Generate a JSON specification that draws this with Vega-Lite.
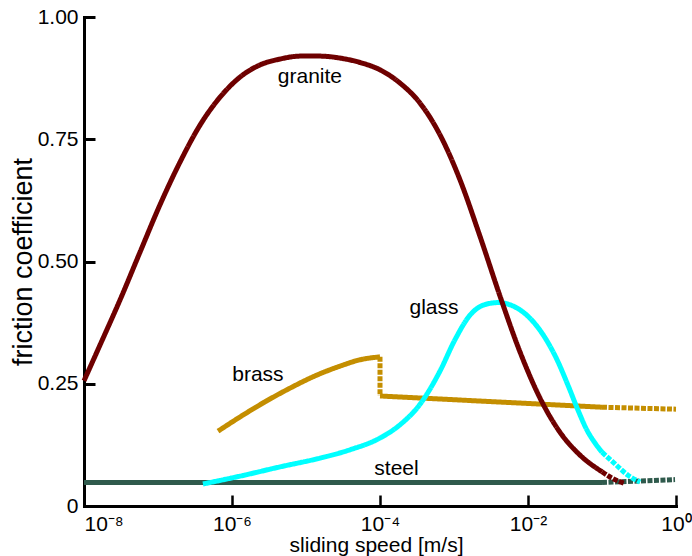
{
  "$schema": "https://vega.github.io/schema/vega-lite/v6.json",
  "width": 592,
  "height": 489,
  "autosize": {"type": "none"},
  "padding": {"left": 84, "top": 17, "right": 16, "bottom": 50},
  "background": "white",
  "config": {"view": {"stroke": null}, "font": "Liberation Sans"},
  "datasets": {
    "curves": [
      {"m": "steel", "seg": "s1", "dash": "solid", "i": 1, "x": 1e-8, "y": 0.048},
      {"m": "steel", "seg": "s1", "dash": "solid", "i": 2, "x": 0.1, "y": 0.048},
      {"m": "steel", "seg": "s2", "dash": "dashed", "i": 3, "x": 0.1, "y": 0.048},
      {"m": "steel", "seg": "s2", "dash": "dashed", "i": 4, "x": 0.97, "y": 0.054},

      {"m": "brass", "seg": "b1", "dash": "solid", "i": 1, "x": 6.47e-7, "y": 0.153},
      {"m": "brass", "seg": "b1", "dash": "solid", "i": 2, "x": 1.28e-6, "y": 0.182},
      {"m": "brass", "seg": "b1", "dash": "solid", "i": 3, "x": 2.79e-6, "y": 0.213},
      {"m": "brass", "seg": "b1", "dash": "solid", "i": 4, "x": 6.08e-6, "y": 0.241},
      {"m": "brass", "seg": "b1", "dash": "solid", "i": 5, "x": 1.32e-5, "y": 0.266},
      {"m": "brass", "seg": "b1", "dash": "solid", "i": 6, "x": 2.88e-5, "y": 0.286},
      {"m": "brass", "seg": "b1", "dash": "solid", "i": 7, "x": 5.37e-5, "y": 0.299},
      {"m": "brass", "seg": "b1", "dash": "solid", "i": 8, "x": 1e-4, "y": 0.305},
      {"m": "brass", "seg": "b2", "dash": "dashed", "i": 9, "x": 1e-4, "y": 0.305},
      {"m": "brass", "seg": "b2", "dash": "dashed", "i": 10, "x": 1e-4, "y": 0.225},
      {"m": "brass", "seg": "b3", "dash": "solid", "i": 11, "x": 1e-4, "y": 0.225},
      {"m": "brass", "seg": "b3", "dash": "solid", "i": 12, "x": 0.1, "y": 0.202},
      {"m": "brass", "seg": "b4", "dash": "dashed", "i": 13, "x": 0.1, "y": 0.202},
      {"m": "brass", "seg": "b4", "dash": "dashed", "i": 14, "x": 1, "y": 0.198},

      {"m": "glass", "seg": "c1", "dash": "solid", "i": 1, "x": 4.05e-7, "y": 0.045},
      {"m": "glass", "seg": "c1", "dash": "solid", "i": 2, "x": 1.28e-6, "y": 0.061},
      {"m": "glass", "seg": "c1", "dash": "solid", "i": 3, "x": 4.46e-6, "y": 0.08},
      {"m": "glass", "seg": "c1", "dash": "solid", "i": 4, "x": 1.55e-5, "y": 0.098},
      {"m": "glass", "seg": "c1", "dash": "solid", "i": 5, "x": 3.94e-5, "y": 0.115},
      {"m": "glass", "seg": "c1", "dash": "solid", "i": 6, "x": 1e-4, "y": 0.139},
      {"m": "glass", "seg": "c1", "dash": "solid", "i": 7, "x": 1.86e-4, "y": 0.166},
      {"m": "glass", "seg": "c1", "dash": "solid", "i": 8, "x": 3.47e-4, "y": 0.208},
      {"m": "glass", "seg": "c1", "dash": "solid", "i": 9, "x": 6.47e-4, "y": 0.276},
      {"m": "glass", "seg": "c1", "dash": "solid", "i": 10, "x": 1.03e-3, "y": 0.340},
      {"m": "glass", "seg": "c1", "dash": "solid", "i": 11, "x": 1.64e-3, "y": 0.390},
      {"m": "glass", "seg": "c1", "dash": "solid", "i": 12, "x": 2.62e-3, "y": 0.412},
      {"m": "glass", "seg": "c1", "dash": "solid", "i": 13, "x": 4.0e-3, "y": 0.416},
      {"m": "glass", "seg": "c1", "dash": "solid", "i": 14, "x": 6.67e-3, "y": 0.407},
      {"m": "glass", "seg": "c1", "dash": "solid", "i": 15, "x": 1.064e-2, "y": 0.384},
      {"m": "glass", "seg": "c1", "dash": "solid", "i": 16, "x": 1.7e-2, "y": 0.344},
      {"m": "glass", "seg": "c1", "dash": "solid", "i": 17, "x": 2.47e-2, "y": 0.299},
      {"m": "glass", "seg": "c1", "dash": "solid", "i": 18, "x": 3.47e-2, "y": 0.247},
      {"m": "glass", "seg": "c1", "dash": "solid", "i": 19, "x": 4.74e-2, "y": 0.196},
      {"m": "glass", "seg": "c1", "dash": "solid", "i": 20, "x": 6.27e-2, "y": 0.155},
      {"m": "glass", "seg": "c1", "dash": "solid", "i": 21, "x": 8.03e-2, "y": 0.129},
      {"m": "glass", "seg": "c1", "dash": "solid", "i": 22, "x": 0.1, "y": 0.11},
      {"m": "glass", "seg": "c2", "dash": "dashed", "i": 23, "x": 0.1, "y": 0.11},
      {"m": "glass", "seg": "c2", "dash": "dashed", "i": 24, "x": 0.15, "y": 0.086},
      {"m": "glass", "seg": "c2", "dash": "dashed", "i": 25, "x": 0.224, "y": 0.063},
      {"m": "glass", "seg": "c2", "dash": "dashed", "i": 26, "x": 0.327, "y": 0.049},

      {"m": "granite", "seg": "g1", "dash": "solid", "i": 1, "x": 1e-8, "y": 0.256},
      {"m": "granite", "seg": "g1", "dash": "solid", "i": 2, "x": 1.644e-8, "y": 0.329},
      {"m": "granite", "seg": "g1", "dash": "solid", "i": 3, "x": 3.06e-8, "y": 0.421},
      {"m": "granite", "seg": "g1", "dash": "solid", "i": 4, "x": 5.71e-8, "y": 0.519},
      {"m": "granite", "seg": "g1", "dash": "solid", "i": 5, "x": 1.064e-7, "y": 0.616},
      {"m": "granite", "seg": "g1", "dash": "solid", "i": 6, "x": 1.98e-7, "y": 0.703},
      {"m": "granite", "seg": "g1", "dash": "solid", "i": 7, "x": 3.7e-7, "y": 0.779},
      {"m": "granite", "seg": "g1", "dash": "solid", "i": 8, "x": 6.89e-7, "y": 0.836},
      {"m": "granite", "seg": "g1", "dash": "solid", "i": 9, "x": 1.28e-6, "y": 0.877},
      {"m": "granite", "seg": "g1", "dash": "solid", "i": 10, "x": 2.39e-6, "y": 0.902},
      {"m": "granite", "seg": "g1", "dash": "solid", "i": 11, "x": 4.46e-6, "y": 0.914},
      {"m": "granite", "seg": "g1", "dash": "solid", "i": 12, "x": 8.3e-6, "y": 0.92},
      {"m": "granite", "seg": "g1", "dash": "solid", "i": 13, "x": 1.55e-5, "y": 0.92},
      {"m": "granite", "seg": "g1", "dash": "solid", "i": 14, "x": 2.88e-5, "y": 0.916},
      {"m": "granite", "seg": "g1", "dash": "solid", "i": 15, "x": 5.37e-5, "y": 0.907},
      {"m": "granite", "seg": "g1", "dash": "solid", "i": 16, "x": 1e-4, "y": 0.892},
      {"m": "granite", "seg": "g1", "dash": "solid", "i": 17, "x": 1.86e-4, "y": 0.865},
      {"m": "granite", "seg": "g1", "dash": "solid", "i": 18, "x": 3.47e-4, "y": 0.824},
      {"m": "granite", "seg": "g1", "dash": "solid", "i": 19, "x": 6.47e-4, "y": 0.759},
      {"m": "granite", "seg": "g1", "dash": "solid", "i": 20, "x": 1.205e-3, "y": 0.667},
      {"m": "granite", "seg": "g1", "dash": "solid", "i": 21, "x": 2.24e-3, "y": 0.552},
      {"m": "granite", "seg": "g1", "dash": "solid", "i": 22, "x": 4.19e-3, "y": 0.429},
      {"m": "granite", "seg": "g1", "dash": "solid", "i": 23, "x": 7.8e-3, "y": 0.315},
      {"m": "granite", "seg": "g1", "dash": "solid", "i": 24, "x": 1.45e-2, "y": 0.221},
      {"m": "granite", "seg": "g1", "dash": "solid", "i": 25, "x": 2.7e-2, "y": 0.151},
      {"m": "granite", "seg": "g1", "dash": "solid", "i": 26, "x": 5.05e-2, "y": 0.104},
      {"m": "granite", "seg": "g1", "dash": "solid", "i": 27, "x": 0.1, "y": 0.07},
      {"m": "granite", "seg": "g2", "dash": "dashed", "i": 28, "x": 0.1, "y": 0.07},
      {"m": "granite", "seg": "g2", "dash": "dashed", "i": 29, "x": 0.1365, "y": 0.057},
      {"m": "granite", "seg": "g2", "dash": "dashed", "i": 30, "x": 0.205, "y": 0.046}
    ],
    "labels": [
      {"t": "granite", "x": 1.13e-5, "y": 0.865},
      {"t": "glass", "x": 5.37e-4, "y": 0.393},
      {"t": "brass", "x": 2.24e-6, "y": 0.256},
      {"t": "steel", "x": 1.67e-4, "y": 0.063}
    ]
  },
  "encoding": {
    "x": {
      "field": "x", "type": "quantitative",
      "scale": {"type": "log", "domain": [1e-8, 1], "nice": false},
      "axis": {
        "values": [1e-8, 1e-6, 1e-4, 1e-2, 1],
        "labelExpr": "datum.value < 2e-8 ? '10⁻⁸' : datum.value < 2e-6 ? '10⁻⁶' : datum.value < 2e-4 ? '10⁻⁴' : datum.value < 2e-2 ? '10⁻²' : '10⁰'",
        "labelAlign": {"condition": {"test": "datum.value < 2e-8", "value": "left"}, "value": "center"},
        "labelFlush": false,
        "labelFontSize": 21, "labelColor": "black", "labelPadding": 18,
        "grid": false, "tickSize": -11, "tickWidth": 2.5, "tickColor": "black",
        "domainColor": "black", "domainWidth": 3, "domainCap": "square",
        "title": "sliding speed [m/s]", "titleFontSize": 21, "titleFontWeight": "normal",
        "titleColor": "black", "titleBaseline": "alphabetic", "titleY": 45, "titleX": 292
      }
    },
    "y": {
      "field": "y", "type": "quantitative",
      "scale": {"domain": [0, 1], "nice": false},
      "axis": {
        "values": [0, 0.25, 0.5, 0.75, 1],
        "labelExpr": "datum.value == 0 ? '0' : format(datum.value, '.2f')",
        "labelFontSize": 21, "labelColor": "black", "labelPadding": 17,
        "grid": false, "tickSize": -11, "tickWidth": 3, "tickColor": "black",
        "domainColor": "black", "domainWidth": 3, "domainCap": "square",
        "title": "friction coefficient", "titleFontSize": 27, "titleFontWeight": "normal",
        "titleColor": "black", "titleBaseline": "alphabetic", "titleX": -53, "titleAngle": -90
      }
    }
  },
  "layer": [
    {
      "data": {"name": "curves"},
      "transform": [{"filter": "datum.m == 'steel'"}],
      "mark": {"type": "line", "strokeWidth": 5, "strokeCap": "butt", "interpolate": "monotone"},
      "encoding": {
        "detail": {"field": "seg"},
        "order": {"field": "i", "type": "quantitative"},
        "color": {"field": "m", "type": "nominal", "legend": null,
          "scale": {"domain": ["steel", "brass", "glass", "granite"], "range": ["#2f5a4c", "#c48e00", "#00ffff", "#6e0000"]}},
        "strokeDash": {"field": "dash", "type": "nominal", "legend": null,
          "scale": {"domain": ["solid", "dashed"], "range": [[1, 0], [5, 1.5]]}}
      }
    },
    {
      "data": {"name": "curves"},
      "transform": [{"filter": "datum.m == 'brass'"}],
      "mark": {"type": "line", "strokeWidth": 5, "strokeCap": "butt", "interpolate": "monotone"},
      "encoding": {
        "detail": {"field": "seg"},
        "order": {"field": "i", "type": "quantitative"},
        "color": {"field": "m", "type": "nominal", "legend": null,
          "scale": {"domain": ["steel", "brass", "glass", "granite"], "range": ["#2f5a4c", "#c48e00", "#00ffff", "#6e0000"]}},
        "strokeDash": {"field": "dash", "type": "nominal", "legend": null,
          "scale": {"domain": ["solid", "dashed"], "range": [[1, 0], [5, 1.5]]}}
      }
    },
    {
      "data": {"name": "curves"},
      "transform": [{"filter": "datum.m == 'glass'"}],
      "mark": {"type": "line", "strokeWidth": 5, "strokeCap": "butt", "interpolate": "monotone"},
      "encoding": {
        "detail": {"field": "seg"},
        "order": {"field": "i", "type": "quantitative"},
        "color": {"field": "m", "type": "nominal", "legend": null,
          "scale": {"domain": ["steel", "brass", "glass", "granite"], "range": ["#2f5a4c", "#c48e00", "#00ffff", "#6e0000"]}},
        "strokeDash": {"field": "dash", "type": "nominal", "legend": null,
          "scale": {"domain": ["solid", "dashed"], "range": [[1, 0], [5, 1.5]]}}
      }
    },
    {
      "data": {"name": "curves"},
      "transform": [{"filter": "datum.m == 'granite'"}],
      "mark": {"type": "line", "strokeWidth": 5, "strokeCap": "butt", "interpolate": "monotone"},
      "encoding": {
        "detail": {"field": "seg"},
        "order": {"field": "i", "type": "quantitative"},
        "color": {"field": "m", "type": "nominal", "legend": null,
          "scale": {"domain": ["steel", "brass", "glass", "granite"], "range": ["#2f5a4c", "#c48e00", "#00ffff", "#6e0000"]}},
        "strokeDash": {"field": "dash", "type": "nominal", "legend": null,
          "scale": {"domain": ["solid", "dashed"], "range": [[1, 0], [5, 1.5]]}}
      }
    },
    {
      "data": {"name": "labels"},
      "mark": {"type": "text", "fontSize": 21, "font": "Liberation Sans", "align": "center", "baseline": "alphabetic", "color": "black"},
      "encoding": {"text": {"field": "t", "type": "nominal"}}
    }
  ]
}
